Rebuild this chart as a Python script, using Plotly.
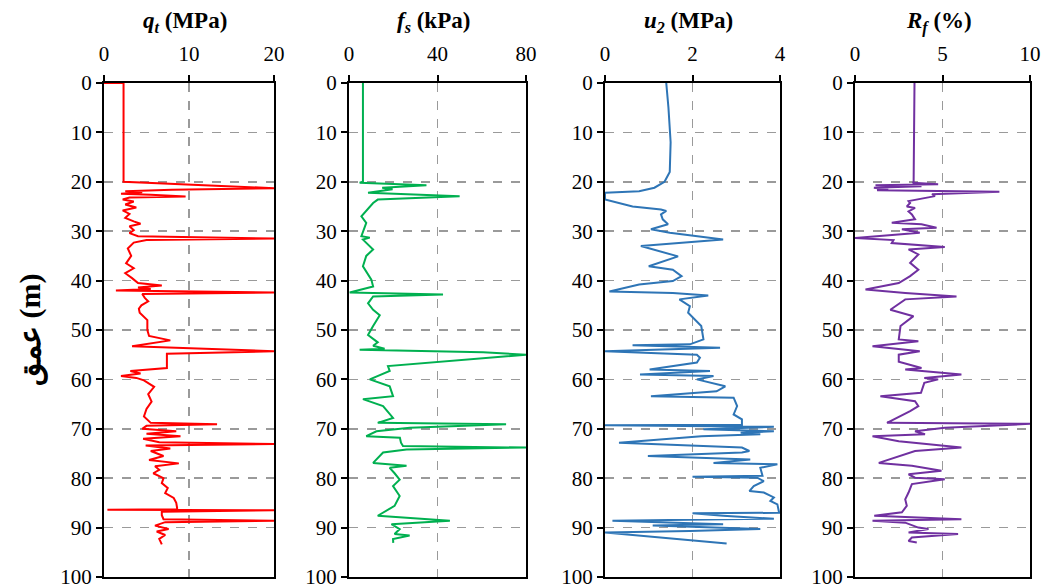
import plotly.graph_objects as go

# ---------------- data (depth in m) ----------------
qt_depth = [0, 0, 20, 20.3, 21.3, 21.6, 21.9, 22.1, 22.4, 22.6, 23.0, 23.2, 23.6, 24.0, 24.6, 25.2, 25.8, 26.5,
            27.3, 28.0, 28.5, 29.0, 29.8, 30.4, 31.0, 31.5, 31.8, 32.3, 33.5, 35.0, 36.5, 37.5, 38.5, 39.5, 40.5,
            41.0, 41.4, 41.7, 42.0, 42.4, 42.7, 43.5, 44.2, 45.0, 45.7, 46.5, 48.0, 50.0, 51.2, 52.1, 52.7, 53.3,
            54.3, 54.8, 57.7, 58.3, 58.8, 59.3, 59.7, 60.2, 61.5, 63.0, 64.5, 66.0, 67.5, 68.8, 69.1, 69.4, 70.0,
            70.5, 71.0, 71.5, 72.0, 72.7, 73.1, 73.4, 74.0, 74.5, 75.5, 76.3, 77.0, 77.6, 78.3, 79.0, 80.0, 81.0,
            82.0, 83.0, 84.0, 85.0, 86.0, 86.3, 86.4, 86.5, 86.8, 87.5, 88.3, 88.6, 88.9, 89.6, 90.3, 90.8, 91.5,
            92.3, 93.4]
qt_value = [0, 2.3, 2.3, 6.0, 20, 8.0, 2.5, 4.5, 2.0, 5.5, 9.6, 3.0, 2.2, 3.5, 2.5, 3.8, 2.2, 3.0,
            2.5, 3.5, 4.3, 3.0, 3.5, 3.0, 4.0, 20, 5.0, 3.5, 2.8, 3.2, 2.6, 3.5, 2.5, 3.3, 4.0,
            6.8, 4.0, 5.5, 1.4, 20, 4.5, 4.8, 5.2, 4.4, 4.1, 4.2, 5.1, 5.1, 5.3, 7.8, 5.5, 3.3,
            20, 7.4, 7.4, 3.1, 4.3, 2.0, 3.8, 4.7, 5.9, 5.2, 5.6, 5.0, 4.7, 5.5, 13.3, 5.0, 4.5,
            8.5, 5.0, 9.0, 4.6, 6.5, 20, 4.9, 7.8, 5.5, 7.0, 5.3, 8.8, 6.0, 6.5, 5.8, 7.0, 6.8,
            7.5, 7.2, 8.2, 8.5, 8.6, 8.6, 0.4, 20, 6.8, 6.8, 7.0, 20, 7.2, 6.0, 7.6, 6.2, 7.2,
            6.5, 6.8]

fs_depth = [0, 20.0, 20.2, 20.7, 21.2, 21.5, 22.2, 22.9, 23.6, 24.3, 27.0, 28.3, 31.0, 31.3, 31.7, 33.7, 35.0,
            37.1, 39.8, 41.2, 42.4, 42.8, 43.2, 44.6, 45.9, 47.0, 49.2, 51.0, 52.5, 53.2, 53.8, 54.0, 54.5,
            55.0, 57.3, 58.3, 60.0, 61.4, 63.4, 64.0, 65.4, 67.8, 68.8, 69.1, 69.8, 70.5, 71.5, 71.8, 72.8,
            73.5, 73.8, 74.2, 74.8, 76.9, 77.5, 77.9, 79.0, 80.3, 81.6, 83.6, 85.6, 87.6, 88.6, 89.3, 90.3,
            91.3, 91.6, 92.3, 93.1]
fs_value = [6.3, 6.3, 4.8, 35, 15, 19.7, 8.6, 50, 13.0, 10.9, 5.6, 7.8, 5.6, 9.4, 6.3, 10.9, 7.8,
            6.3, 10.1, 10.9, 0.3, 42.5, 10.9, 8.6, 10.9, 13.9, 10.9, 8.6, 13.0, 10.9, 16.1, 4.8, 60.6,
            80, 17.6, 18.4, 9.4, 18.4, 19.9, 6.3, 15.4, 19.9, 13.0, 71, 27.5, 12.4, 7.8, 23.0, 23.5,
            24.4, 80, 26.0, 15.4, 10.9, 26.0, 18.4, 20.6, 22.9, 19.9, 22.9, 20.6, 13.0, 45.6, 19.2, 22.9,
            20.6, 27.4, 19.9, 20.0]

u2_depth = [0, 5, 12, 18.0, 20.0, 21.2, 21.9, 22.2, 23.6, 24.3, 25.0, 25.6, 25.9, 26.6, 27.6, 28.6, 29.6,
            30.3, 31.7, 33.0, 34.0, 35.1, 37.1, 37.8, 39.1, 40.1, 40.8, 42.2, 42.5, 43.0, 43.8, 45.2, 46.5,
            49.2, 51.9, 52.9, 53.1, 53.6, 54.3, 55.0, 55.6, 56.6, 58.0, 58.3, 59.0, 59.3, 60.0, 61.4, 62.4,
            63.4, 63.7, 65.4, 67.1, 68.1, 69.2, 69.3, 69.6, 70.1, 70.5, 70.8, 71.1, 71.5, 72.8, 73.5, 73.8,
            74.5, 74.8, 75.5, 76.2, 76.9, 77.2, 77.9, 79.5, 79.7, 79.9, 80.6, 81.6, 82.6, 82.9, 83.9, 84.6,
            85.3, 87.0, 87.1, 87.6, 88.2, 88.6, 89.3, 89.6, 90.3, 90.7, 91.0, 91.3, 93.2]
u2_value = [1.40, 1.45, 1.50, 1.48, 1.36, 1.13, 0.78, 0.0, 0.0, 0.32, 0.63, 1.28, 1.40, 1.28, 1.32, 1.44, 1.05,
            1.48, 2.70, 0.82, 1.25, 1.67, 1.00, 1.55, 1.75, 1.55, 0.78, 0.10, 1.55, 2.36, 1.70, 1.94, 1.90,
            2.20, 2.25, 1.94, 0.63, 2.63, 0.0, 2.10, 2.17, 2.10, 1.02, 2.40, 0.80, 2.48, 2.10, 2.75, 2.55,
            1.05, 2.94, 3.02, 2.94, 3.13, 3.13, 0.0, 3.86, 2.25, 3.86, 3.10, 3.55, 2.20, 0.32, 2.28, 3.13,
            3.30, 3.13, 0.98, 3.32, 2.48, 3.94, 3.55, 3.60, 2.00, 3.48, 3.63, 3.40, 3.30, 3.63, 3.86, 3.78,
            3.94, 3.98, 2.00, 2.70, 3.86, 0.17, 2.70, 1.09, 3.55, 1.94, 0.0, 0.40, 2.78]

rf_depth = [0, 20.0, 20.2, 20.5, 20.7, 20.9, 21.2, 21.6, 21.7, 22.0, 22.5, 22.9, 23.9, 24.3, 25.0, 25.3,
            26.0, 26.6, 27.6, 28.3, 28.6, 29.3, 29.6, 30.3, 31.4, 31.8, 32.4, 33.2, 33.7, 34.7, 36.4, 37.8,
            39.1, 40.5, 41.8, 42.5, 43.2, 43.8, 45.9, 47.2, 49.2, 51.9, 52.3, 53.3, 54.3, 55.0, 56.4, 57.7,
            58.0, 59.0, 59.7, 60.0, 60.7, 62.7, 63.4, 64.4, 65.4, 66.4, 68.8, 69.0, 69.8, 70.5, 71.1, 71.5,
            72.5, 73.8, 74.5, 75.8, 76.9, 77.5, 78.5, 79.2, 79.9, 80.2, 81.2, 82.9, 84.3, 85.6, 86.9, 87.6,
            88.3, 88.6, 89.0, 90.0, 90.3, 91.0, 91.3, 92.0, 92.7, 93.0]
rf_value = [3.40, 3.35, 3.30, 4.75, 1.17, 3.80, 1.08, 1.90, 1.26, 8.25, 4.40, 4.57, 3.06, 3.15, 2.96, 3.43,
            3.06, 3.25, 3.43, 2.10, 3.80, 4.66, 2.68, 3.70, 0.0, 2.20, 2.10, 5.13, 3.06, 3.62, 3.15, 3.62,
            3.15, 2.50, 0.60, 2.87, 5.80, 2.87, 2.02, 3.34, 2.60, 2.50, 3.62, 1.00, 3.70, 2.50, 2.50, 3.80,
            2.87, 6.08, 3.96, 4.75, 3.96, 3.77, 1.45, 3.43, 3.62, 3.15, 1.83, 10.0, 5.13, 3.43, 4.00, 1.00,
            2.50, 6.08, 3.43, 2.30, 1.36, 3.25, 4.94, 3.06, 3.43, 5.13, 3.25, 3.06, 2.87, 2.96, 2.68, 1.10,
            6.08, 1.00, 2.87, 3.62, 4.20, 3.06, 5.89, 3.25, 3.06, 3.53]

titles = ["<b><i>q</i><sub><i>t</i></sub> (MPa)</b>", "<b><i>f</i><sub><i>s</i></sub> (kPa)</b>",
          "<b><i>u</i><sub><i>2</i></sub> (MPa)</b>", "<b><i>R</i><sub><i>f</i></sub> (%)</b>"]
x_ranges = [[0, 20], [0, 80], [0, 4], [0, 10]]
x_dticks = [10, 40, 2, 5]
colors = ["#ff0000", "#00b050", "#2e75b6", "#7030a0"]
depth_ticks = list(range(0, 101, 10))
y_title = "عمق (m)"

W, H = 1046, 587
panels_px = [(104, 274), (349, 526), (605, 780), (855, 1030)]
top_px, bot_px = 83, 577


def fx(px):
    return px / W


def fy(py):
    return 1 - py / H


fig = go.Figure()
series = [(qt_depth, qt_value), (fs_depth, fs_value), (u2_depth, u2_value), (rf_depth, rf_value)]
font_family = "Liberation Serif, Times New Roman, serif"

for i, ((d, v), col) in enumerate(zip(series, colors)):
    n = "" if i == 0 else str(i + 1)
    fig.add_trace(go.Scatter(x=v, y=d, mode="lines", line=dict(color=col, width=2),
                             xaxis="x" + n, yaxis="y" + n, showlegend=False, hoverinfo="skip"))
    x0, x1 = panels_px[i]
    fig.layout["xaxis" + n] = dict(
        domain=[fx(x0), fx(x1)], anchor="y" + n, side="top", range=x_ranges[i], dtick=x_dticks[i],
        tick0=0, showline=True, linecolor="black", linewidth=2, mirror=True, automargin=False,
        ticks="outside", ticklen=6, tickwidth=2, tickcolor="black", ticklabeloverflow="allow",
        showgrid=True, gridcolor="#9a9a9a", griddash="dash", gridwidth=1.5, zeroline=False,
        tickfont=dict(family=font_family, size=21, color="black"), ticklabelstandoff=6)
    fig.layout["yaxis" + n] = dict(
        domain=[fy(bot_px), fy(top_px)], anchor="x" + n, range=[100, 0], automargin=False,
        tickvals=depth_ticks, showline=True, linecolor="black", linewidth=2, mirror=True,
        ticks="outside", ticklen=6, tickwidth=2, tickcolor="black", ticklabeloverflow="allow",
        showgrid=True, gridcolor="#9a9a9a", griddash="dash", gridwidth=1.5, zeroline=False,
        tickfont=dict(family=font_family, size=21, color="black"), ticklabelstandoff=0)
    fig.add_annotation(text=titles[i], x=fx((x0 + x1) / 2 - 4), y=fy(22), xref="paper", yref="paper",
                       xanchor="center", yanchor="middle",
                       showarrow=False, font=dict(family=font_family, size=23, color="black"))

fig.add_annotation(text="<b>" + y_title + "</b>", x=fx(30), y=fy(330), xref="paper", yref="paper",
                   xanchor="center", yanchor="middle", textangle=-90, showarrow=False,
                   font=dict(family="Liberation Serif, DejaVu Serif, serif", size=30, color="black"))

fig.update_layout(width=W, height=H, margin=dict(l=0, r=0, t=0, b=0, autoexpand=False),
                  plot_bgcolor="white", paper_bgcolor="white", hovermode=False)
fig.write_html("out.html", config={"displayModeBar": False, "staticPlot": True},
               post_script="document.body.style.margin='0';document.body.style.overflow='hidden';")
